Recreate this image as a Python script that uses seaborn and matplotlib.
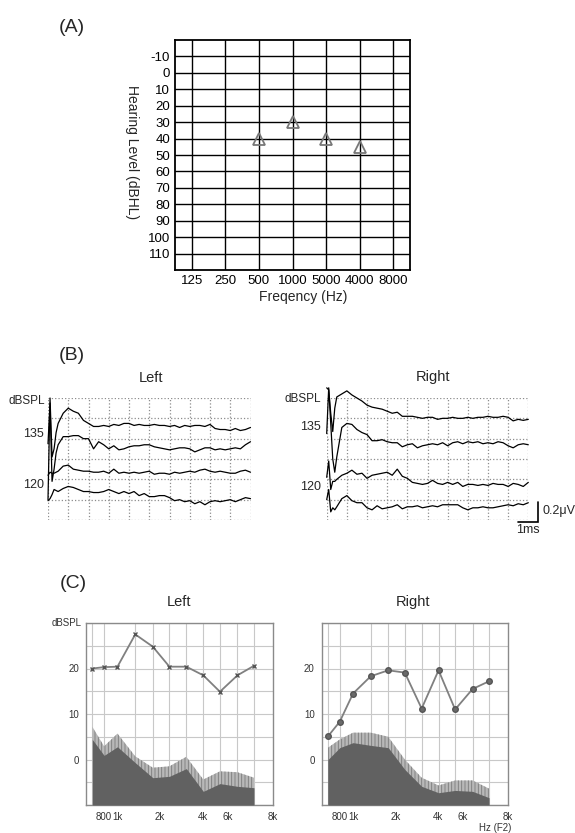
import numpy as np
import matplotlib
matplotlib.use("Agg")
import matplotlib.pyplot as plt
import seaborn as sns

# ---------------- (A) pure-tone audiogram ----------------
freq_labels = ["125", "250", "500", "1000", "5000", "4000", "8000"]
level_ticks = [-10, 0, 10, 20, 30, 40, 50, 60, 70, 80, 90, 100, 110]
tested_freqs = ["500", "1000", "5000", "4000"]
threshold_db = [40, 30, 40, 45]

# ---------------- (B) ABR waveforms (uV, stacked) ----------------
abr_time_ms = [0.0, 0.1, 0.2, 0.3, 0.4, 0.5,
               0.75, 1.0, 1.25, 1.5, 1.75, 2.0, 2.25, 2.5, 2.75, 3.0,
               3.25, 3.5, 3.75, 4.0, 4.25, 4.5, 4.75, 5.0, 5.25, 5.5,
               5.75, 6.0, 6.25, 6.5, 6.75, 7.0, 7.25, 7.5, 7.75, 8.0,
               8.25, 8.5, 8.75, 9.0, 9.25, 9.5, 9.75, 10.0]

left_trace_1 = [0.20, 1.20, 0.62, 0.70, 0.86, 0.95,
                1.05, 1.10, 1.07, 1.05, 0.98, 0.95, 0.92, 0.92, 0.93, 0.92,
                0.94, 0.93, 0.95, 0.95, 0.93, 0.94, 0.93, 0.93, 0.94, 0.93,
                0.93, 0.92, 0.93, 0.91, 0.93, 0.92, 0.93, 0.93, 0.92, 0.94,
                0.90, 0.89, 0.89, 0.88, 0.90, 0.88, 0.89, 0.91]
left_trace_2 = [0.75, 1.15, 0.38, 0.50, 0.66, 0.74,
                0.82, 0.82, 0.83, 0.83, 0.80, 0.80, 0.70, 0.77, 0.74, 0.70,
                0.73, 0.69, 0.70, 0.72, 0.73, 0.73, 0.74, 0.74, 0.72, 0.71,
                0.70, 0.69, 0.70, 0.71, 0.71, 0.70, 0.67, 0.69, 0.71, 0.71,
                0.69, 0.70, 0.69, 0.70, 0.71, 0.70, 0.74, 0.77]
left_trace_3 = [0.44, 0.47, 0.46, 0.46, 0.47, 0.48,
                0.53, 0.54, 0.50, 0.49, 0.48, 0.48, 0.47, 0.47, 0.48, 0.46,
                0.50, 0.46, 0.47, 0.46, 0.47, 0.46, 0.47, 0.48, 0.45, 0.46,
                0.46, 0.45, 0.47, 0.46, 0.47, 0.48, 0.47, 0.49, 0.50, 0.48,
                0.47, 0.48, 0.47, 0.46, 0.46, 0.48, 0.49, 0.47]
left_trace_4 = [0.19, 0.21, 0.25, 0.30, 0.29, 0.28,
                0.31, 0.33, 0.32, 0.30, 0.28, 0.28, 0.27, 0.27, 0.28, 0.30,
                0.28, 0.26, 0.28, 0.26, 0.28, 0.24, 0.26, 0.23, 0.23, 0.24,
                0.24, 0.22, 0.19, 0.20, 0.18, 0.19, 0.16, 0.18, 0.15, 0.18,
                0.19, 0.18, 0.19, 0.20, 0.18, 0.20, 0.22, 0.21]

right_trace_1 = [1.30, 1.28, 1.05, 0.87, 1.10, 1.21,
                 1.24, 1.27, 1.23, 1.20, 1.17, 1.13, 1.11, 1.10, 1.09, 1.07,
                 1.05, 1.06, 1.02, 1.02, 1.02, 1.01, 1.00, 1.01, 1.01, 0.99,
                 1.00, 1.00, 1.01, 1.00, 1.00, 1.01, 1.00, 1.01, 1.01, 1.02,
                 1.01, 1.01, 1.02, 1.01, 0.975, 0.99, 0.98, 0.99]
right_trace_2 = [0.85, 1.30, 0.95, 0.60, 0.47, 0.62,
                 0.91, 0.95, 0.94, 0.89, 0.86, 0.84, 0.78, 0.78, 0.79, 0.77,
                 0.76, 0.76, 0.72, 0.74, 0.75, 0.71, 0.73, 0.74, 0.75, 0.74,
                 0.76, 0.73, 0.76, 0.77, 0.75, 0.77, 0.76, 0.77, 0.75, 0.76,
                 0.75, 0.77, 0.76, 0.73, 0.71, 0.74, 0.75, 0.74]
right_trace_3 = [0.42, 0.58, 0.30, 0.38, 0.38, 0.40,
                 0.44, 0.46, 0.49, 0.45, 0.46, 0.41, 0.44, 0.45, 0.46, 0.47,
                 0.44, 0.50, 0.43, 0.41, 0.37, 0.36, 0.35, 0.36, 0.39, 0.36,
                 0.35, 0.37, 0.35, 0.37, 0.33, 0.35, 0.35, 0.34, 0.35, 0.34,
                 0.36, 0.35, 0.35, 0.33, 0.36, 0.35, 0.33, 0.37]
right_trace_4 = [0.20, 0.30, 0.08, 0.12, 0.10, 0.13,
                 0.21, 0.24, 0.19, 0.17, 0.17, 0.12, 0.10, 0.14, 0.11, 0.12,
                 0.13, 0.15, 0.11, 0.13, 0.13, 0.14, 0.12, 0.13, 0.14, 0.13,
                 0.15, 0.15, 0.15, 0.15, 0.12, 0.10, 0.12, 0.12, 0.13, 0.12,
                 0.12, 0.13, 0.14, 0.15, 0.14, 0.16, 0.15, 0.17]

# ---------------- (C) DPOAE DP-gram ----------------
f2_hz = [665, 805, 1000, 1335, 1775, 2325, 3060, 4030, 5280, 7020, 9180]
f2_tick_labels = ["800", "1k", "2k", "4k", "6k", "8k"]

dp_left = [20.0, 20.3, 20.4, 27.5, 24.8, 20.4, 20.4, 18.5, 14.9, 18.5, 20.6]
noise2sd_left = [7.2, 2.9, 5.7, 0.7, -1.8, -1.5, 0.6, -4.4, -2.6, -2.8, -4.0]
noise_left = [4.4, 0.9, 2.8, -0.7, -4.0, -3.7, -2.0, -7.0, -5.3, -5.9, -6.2]

dp_right = [5.1, 8.3, 14.5, 18.3, 19.6, 19.1, 11.2, 19.6, 11.0, 15.5, 17.2]
noise2sd_right = [2.6, 4.4, 5.9, 5.9, 5.0, 0.0, -4.0, -5.7, -4.6, -4.6, -6.4]
noise_right = [0.0, 2.6, 3.7, 3.1, 2.6, -2.2, -5.9, -7.3, -6.8, -7.0, -8.4]

# ---------------------------------------------------------------------------
sns.set_theme(style="white")
plt.rcParams["font.family"] = ["Liberation Sans", "DejaVu Sans"]
plt.rcParams["axes.unicode_minus"] = False
plt.rcParams["hatch.linewidth"] = 0.6

W, H = 575, 833
fig = plt.figure(figsize=(W / 100, H / 100), dpi=100)


def box(left, top, right, bottom):
    return [left / W, 1 - bottom / H, (right - left) / W, (bottom - top) / H]


def fx(px):
    return px / W


def fy(py):
    return 1 - py / H


# ---------------- panel A ----------------
axA = fig.add_axes(box(175, 40, 410, 270))
xpos = np.arange(len(freq_labels))
axA.set_xlim(-0.5, len(freq_labels) - 0.5)
axA.set_ylim(120, -20)
axA.set_xticks(xpos)
axA.set_xticklabels(freq_labels)
axA.set_yticks(level_ticks)
axA.grid(True, color="black", lw=1.0)
axA.tick_params(length=0, labelsize=9.5, colors="black", pad=3.5)
for s in axA.spines.values():
    s.set_color("black")
    s.set_linewidth(1.3)
tested_x = [freq_labels.index(f) for f in tested_freqs]
sns.lineplot(x=tested_x, y=threshold_db, ax=axA, marker="^", linestyle="",
             markersize=9, markerfacecolor="none", markeredgecolor="#777777",
             markeredgewidth=1.3, color="#777777", estimator=None, zorder=5)
axA.set_xlabel("")
axA.set_ylabel("")
fig.text(fx(132), fy(152), "Hearing Level (dBHL)", rotation=270,
         ha="center", va="center", fontsize=10)
fig.text(fx(303), fy(297), "Freqency (Hz)", ha="center", va="center", fontsize=10)
fig.text(fx(72), fy(27), "(A)", ha="center", va="center", fontsize=14)


# ---------------- panel B ----------------
def draw_abr(ax, traces):
    ax.set_xlim(0, 10)
    ax.set_ylim(0, 1.2)
    ax.set_xticks(np.arange(0, 11, 1))
    ax.set_yticks(np.arange(0, 1.21, 0.2))
    ax.set_xticklabels([])
    ax.set_yticklabels([])
    ax.tick_params(length=0)
    ax.grid(True, ls=":", color="#8c8c8c", lw=0.9)
    for s in ax.spines.values():
        s.set_visible(False)
    for tr in traces:
        sns.lineplot(x=abr_time_ms, y=tr, ax=ax, color="black", lw=0.9,
                     estimator=None, sort=False, clip_on=False)
    ax.set_xlabel("")
    ax.set_ylabel("")


axBL = fig.add_axes(box(48, 398, 250.5, 520))
draw_abr(axBL, [left_trace_1, left_trace_2, left_trace_3, left_trace_4])
axBL.text(-0.15, 1.17, "dBSPL", ha="right", va="center", fontsize=8.5)
axBL.text(-0.2, 0.85, "135", ha="right", va="center", fontsize=9)
axBL.text(-0.2, 0.345, "120", ha="right", va="center", fontsize=9)

axBR = fig.add_axes(box(326.7, 398, 528.3, 520))
draw_abr(axBR, [right_trace_1, right_trace_2, right_trace_3, right_trace_4])
axBR.text(-0.3, 1.19, "dBSPL", ha="right", va="center", fontsize=8.5)
axBR.text(-0.3, 0.91, "135", ha="right", va="center", fontsize=9)
axBR.text(-0.3, 0.32, "120", ha="right", va="center", fontsize=9)

# calibration bar: 1 ms x 0.2 uV
axBR.plot([9.47, 10.47, 10.47], [-0.02, -0.02, 0.18], color="black", lw=1.2,
          clip_on=False, solid_joinstyle="miter")
axBR.text(10.72, 0.09, "0.2\u03bcV", ha="left", va="center", fontsize=9)
axBR.text(9.97, -0.10, "1ms", ha="center", va="center", fontsize=9)

fig.text(fx(151), fy(378), "Left", ha="center", va="center", fontsize=10.5)
fig.text(fx(433), fy(377), "Right", ha="center", va="center", fontsize=10.5)
fig.text(fx(72), fy(355), "(B)", ha="center", va="center", fontsize=14)


# ---------------- panel C ----------------
x_edge = (600, 12500)


def draw_dpgram(ax, dp, upper, floor, marker, msize, show_unit):
    ax.set_xscale("log")
    ax.set_xlim(*x_edge)
    ax.set_ylim(-10, 30)
    ax.fill_between(f2_hz, -10, upper, facecolor="#b8b8b8", edgecolor="#7a7a7a",
                    hatch="|||||", linewidth=0, zorder=2)
    ax.fill_between(f2_hz, -10, floor, facecolor="#616161", linewidth=0, zorder=3)
    sns.lineplot(x=f2_hz, y=dp, ax=ax, color="#808080", lw=1.3, marker=marker,
                 markersize=msize, markerfacecolor="#6a6a6a",
                 markeredgecolor="#555555", markeredgewidth=1.0,
                 estimator=None, sort=False, zorder=4)
    ax.set_xlabel("")
    ax.set_ylabel("")
    yt = np.arange(-10, 31, 5)
    ax.set_yticks(yt)
    ax.set_yticklabels([str(v) if v in (0, 10, 20) else "" for v in yt])
    ax.set_xticks([800, 1000, 2000, 4000, 6000, x_edge[1]])
    ax.set_xticklabels(f2_tick_labels)
    ax.set_xticks(f2_hz, minor=True)
    ax.xaxis.set_minor_formatter(matplotlib.ticker.NullFormatter())
    ax.tick_params(which="major", direction="out", length=3, width=0.8,
                   color="#888888", labelsize=7, labelcolor="#333333", pad=2)
    ax.tick_params(which="minor", length=0)
    ax.grid(True, which="major", axis="y", color="#c8c8c8", lw=0.8, zorder=0)
    ax.grid(True, which="minor", axis="x", color="#c8c8c8", lw=0.8, zorder=0)
    ax.set_axisbelow(True)
    for s in ax.spines.values():
        s.set_color("#8a8a8a")
        s.set_linewidth(1.0)
    if show_unit:
        ax.text(-0.025, 1.0, "dBSPL", transform=ax.transAxes, ha="right",
                va="center", fontsize=7, color="#333333")


axCL = fig.add_axes(box(86, 623, 273, 805))
draw_dpgram(axCL, dp_left, noise2sd_left, noise_left, "x", 3.5, True)
axCR = fig.add_axes(box(321.7, 623, 508, 805))
draw_dpgram(axCR, dp_right, noise2sd_right, noise_right, "o", 4.0, False)

fig.text(fx(179), fy(602), "Left", ha="center", va="center", fontsize=10.5)
fig.text(fx(413), fy(602), "Right", ha="center", va="center", fontsize=10.5)
fig.text(fx(495), fy(828), "Hz (F2)", ha="center", va="center", fontsize=7,
         color="#333333")
fig.text(fx(73), fy(584), "(C)", ha="center", va="center", fontsize=14)

fig.savefig("out.png", dpi=100)
